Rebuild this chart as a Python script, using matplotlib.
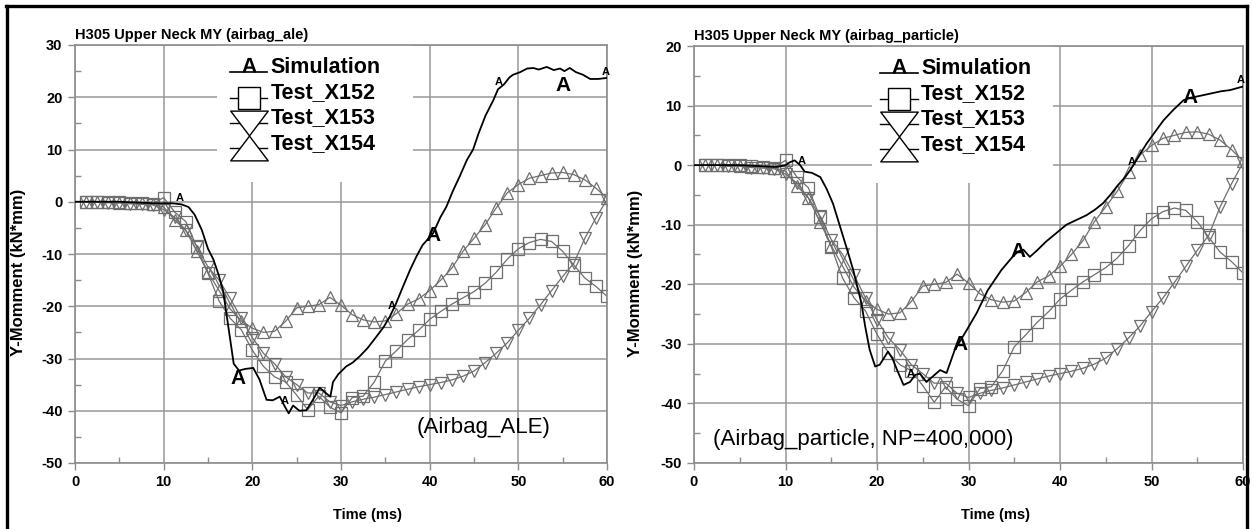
import numpy as np
import matplotlib
matplotlib.use('Agg')
import matplotlib.pyplot as plt
from matplotlib.lines import Line2D
from matplotlib.patches import Rectangle
from matplotlib.path import Path
from matplotlib.textpath import TextPath
from matplotlib.font_manager import FontProperties
from matplotlib.legend_handler import HandlerLine2D
from matplotlib.ticker import MultipleLocator

plt.rcParams['font.family'] = ['Liberation Sans', 'DejaVu Sans']
plt.rcParams['axes.unicode_minus'] = False

# test curves (same physical tests in both panels), one marker every 1.25 ms
test_t = np.arange(1, 49) * 1.25
x152 = [0, 0, 0, 0, -0.2, -0.3, -0.4, 0.8, -2.0, -3.8, -8.7, -13.7,
        -19.0, -22.3, -24.5, -28.4, -31.5, -33.5, -34.5, -37.0, -39.8, -37.2, -39.3, -40.4,
        -37.5, -37.2, -34.5, -30.5, -28.5, -26.4, -24.6, -22.5, -21.0, -19.6, -18.4, -17.2,
        -15.6, -13.5, -11.0, -9.0, -7.8, -7.2, -7.6, -9.5, -12.1, -14.6, -16.2, -18.1]
x153 = [0, 0, -0.2, -0.2, -0.4, -0.5, -0.6, -1.5, -3.0, -5.5, -8.5, -12.5,
        -15.0, -18.5, -22.3, -26.0, -29.0, -31.0, -33.5, -35.0, -36.6, -36.6, -38.3, -39.0,
        -38.3, -37.8, -37.4, -36.9, -36.4, -35.9, -35.4, -35.0, -34.6, -34.1, -33.4, -32.4,
        -30.8, -29.0, -27.0, -24.6, -22.3, -19.7, -17.0, -14.3, -11.8, -7.0, -3.1, 0.4]
x154 = [0, 0, 0, -0.2, -0.3, -0.3, -0.5, -1.0, -3.5, -5.5, -9.5, -13.5,
        -17.0, -20.5, -22.8, -24.2, -25.0, -24.8, -22.9, -20.3, -20.0, -19.7, -18.3, -19.8,
        -21.6, -22.6, -23.0, -22.8, -21.4, -19.6, -18.6, -17.0, -15.0, -12.7, -9.5, -7.0,
        -4.4, -1.2, 1.7, 3.3, 4.5, 5.0, 5.5, 5.6, 5.2, 4.2, 2.6, 0.7]

# simulation, airbag ALE
ale_t = [0, 5, 9, 11, 12, 12.8, 13.5, 14.3, 15, 15.6, 16.2, 16.7, 17.3, 17.9, 18.5, 19.2,
         20.1, 20.8, 21.6, 22.3, 23.1, 23.6, 24.1, 24.6, 25.3, 26.1, 26.8, 27.6, 28.2, 28.8,
         29.1, 29.7, 30.6, 31.3, 32.1, 33, 34, 34.8, 35.5, 36.2, 37, 37.8, 38.5, 39.2, 40.4,
         41.2, 41.9, 42.6, 43.4, 44.2, 44.9, 45.5, 46.3, 47.2, 47.7, 48.4, 49.0, 49.4, 50.2,
         51, 51.7, 52.3, 53.2, 54, 54.7, 55.2, 55.8, 56.5, 57.3, 58.1, 59, 60]
ale_y = [0, 0, -0.3, -0.3, -0.5, -1, -2.5, -5.4, -9, -11, -14, -17, -24, -31, -32.3, -32,
         -31.8, -34, -37.9, -38, -37.3, -39, -40.5, -39, -40, -39.9, -38, -35.6, -36.5, -37.3,
         -34.5, -33, -31.5, -30.8, -29.6, -28, -25.8, -24, -22, -19.5, -16.2, -13, -10.5, -8.3, -6,
         -3, -0.9, 2, 4.9, 8, 10, 13, 16.5, 19.5, 21.5, 22.5, 23.8, 24.3, 24.8,
         25.5, 25.6, 25.3, 25.8, 25.2, 25.5, 25, 25.6, 24.8, 24.3, 23.5, 23.5, 23.7]

# simulation, airbag particle
par_t = [0, 5, 9, 10, 10.5, 11, 11.6, 12.1, 12.9, 13.8, 14.5, 15.2, 15.7, 16.3, 16.9, 17.4,
         18.3, 18.7, 19.2, 19.8, 20.3, 21.2, 21.7, 22.2, 22.9, 23.6, 24.2, 24.7, 25.4, 26.3,
         26.9, 27.6, 28.5, 29.8, 30.9, 32.1, 33.6, 34.7, 35.4, 36.0, 36.7, 37.5, 38.5, 39.6,
         40.7, 41.8, 42.9, 43.8, 44.7, 45.5, 46.2, 47.0, 47.7, 48.6, 49.5, 50.4, 51.3, 52.4,
         53.5, 54.2, 54.9, 55.8, 56.7, 57.6, 58.6, 59.3, 60]
par_y = [0, 0, -0.3, 0, 0.5, 0.8, 0, -1.1, -1.3, -2, -4, -6.5, -9, -12, -15, -17.6,
         -23.2, -27, -31, -33.8, -33.5, -31.3, -32.5, -34.4, -36.9, -36.4, -35.2, -35, -36.4, -35.2,
         -34.4, -34.9, -31, -27.7, -24.8, -21, -17.6, -15.6, -14.5, -14.2, -15.4, -14.3, -12.8, -11.4,
         -10, -9.2, -8.4, -7.5, -6.4, -5, -3.6, -2.2, -0.8, 1.5, 3.7, 5.6, 7.5, 9.3,
         10.9, 11.3, 11.5, 11.8, 12.1, 12.4, 12.6, 12.9, 13.2]

labels = ['Simulation', 'Test_X152', 'Test_X153', 'Test_X154']

GRAY = '#6e6e6e'
AX_GRAY = '#8c8c8c'


def a_marker():
    tp = TextPath((0, 0), 'A', prop=FontProperties(family='Liberation Sans', weight='bold'), size=1)
    v = tp.vertices.copy()
    keep = tp.codes != Path.CLOSEPOLY
    v[:, 0] -= (v[keep, 0].min() + v[keep, 0].max()) / 2
    v[~keep] = 0
    return Path(v, tp.codes)


tri_down = Path([(-0.5, 0.33), (0.5, 0.33), (0, -0.33), (-0.5, 0.33)],
                [Path.MOVETO, Path.LINETO, Path.LINETO, Path.CLOSEPOLY])
tri_up = Path([(-0.5, -0.33), (0.5, -0.33), (0, 0.33), (-0.5, -0.33)],
              [Path.MOVETO, Path.LINETO, Path.LINETO, Path.CLOSEPOLY])


class BaselineHandler(HandlerLine2D):
    # put the handle line on the text baseline like the original
    def create_artists(self, legend, orig_handle, xdescent, ydescent, width, height, fontsize, trans):
        arts = super().create_artists(legend, orig_handle, xdescent, ydescent,
                                      width, height, fontsize, trans)
        for a in arts:
            a.set_ydata(np.asarray(a.get_ydata(), float) - 0.33 * fontsize)
        return arts


def panel(ax, sim_t, sim_y, ymax, title, note, note_xy, small_tags, big_tags, box, leg_xy):
    ax.plot(test_t, x152, color=GRAY, lw=0.9, marker='s', ms=8, mfc='none', mec=GRAY, mew=0.9, zorder=2)
    ax.plot(test_t, x153, color=GRAY, lw=0.9, marker='v', ms=8, mfc='none', mec=GRAY, mew=0.9, zorder=2)
    ax.plot(test_t, x154, color=GRAY, lw=0.9, marker='^', ms=8, mfc='none', mec=GRAY, mew=0.9, zorder=2)
    ax.plot(sim_t, sim_y, color='black', lw=1.3, zorder=3)

    for t in small_tags:
        ax.text(t, np.interp(t, sim_t, sim_y) + 0.3, 'A', fontsize=8, fontweight='bold',
                ha='center', va='bottom', zorder=4)
    for t, dy in big_tags:
        ax.text(t, np.interp(t, sim_t, sim_y) + dy, 'A', fontsize=15, fontweight='bold',
                ha='center', va='center', zorder=4)

    ax.set_xlim(0, 60)
    ax.set_ylim(-50, ymax)
    ax.xaxis.set_major_locator(MultipleLocator(10))
    ax.yaxis.set_major_locator(MultipleLocator(10))
    ax.xaxis.set_minor_locator(MultipleLocator(5))
    ax.yaxis.set_minor_locator(MultipleLocator(5))
    ax.grid(True, which='major', color='#999999', lw=1.1)
    ax.tick_params(which='major', direction='out', length=5, color=AX_GRAY, width=1.0,
                   labelsize=10.5, pad=4)
    ax.tick_params(which='minor', direction='in', length=4, color=AX_GRAY, width=1.0)
    for lab in ax.get_xticklabels() + ax.get_yticklabels():
        lab.set_fontweight('bold')
    for s in ax.spines.values():
        s.set_color(AX_GRAY)
        s.set_linewidth(1.2)

    ax.set_title(title, loc='left', fontsize=10.5, fontweight='bold', pad=4)
    ax.set_xlabel('Time (ms)', fontsize=10.5, fontweight='bold')
    ax.set_ylabel('Y-Momment (kN*mm)', fontsize=12, fontweight='bold')
    ax.xaxis.set_label_coords(0.55, -0.108)
    ax.yaxis.set_label_coords(-0.092, 0.455)

    ax.text(note_xy[0], note_xy[1], note, fontsize=16, ha='left', va='center', zorder=4)

    ax.add_patch(Rectangle((box[0], box[1]), box[2] - box[0], 1 - box[1], transform=ax.transAxes,
                           facecolor='white', edgecolor='none', zorder=1.8))

    handles = [
        Line2D([], [], color='black', lw=1.2, marker=a_marker(), ms=21, mfc='black', mec='black', mew=0),
        Line2D([], [], color='black', lw=1.0, marker='s', ms=16, mfc='white', mec='black', mew=1.0),
        Line2D([], [], color='black', lw=1.0, marker=tri_down, ms=27, mfc='white', mec='black', mew=1.0),
        Line2D([], [], color='black', lw=1.0, marker=tri_up, ms=27, mfc='white', mec='black', mew=1.0),
    ]
    leg = ax.legend(handles, labels, loc='upper left', bbox_to_anchor=leg_xy, frameon=False,
                    prop=FontProperties(family='Liberation Sans', weight='bold', size=15.5),
                    handlelength=1.75, handletextpad=0.15, labelspacing=0.2, borderpad=0,
                    borderaxespad=0, numpoints=1, handler_map={Line2D: BaselineHandler()})
    leg.set_zorder(5)


fig = plt.figure(figsize=(12.53, 5.29), dpi=100)
axL = fig.add_axes([75 / 1253, 1 - 463 / 529, 532 / 1253, 418 / 529])
axR = fig.add_axes([694 / 1253, 1 - 463 / 529, 549 / 1253, 417 / 529])

panel(axL, ale_t, ale_y, 30, 'H305 Upper Neck MY (airbag_ale)', '(Airbag_ALE)', (38.5, -43.3),
      [11.8, 23.7, 35.7, 47.8, 59.8], [(18.4, -1.7), (40.4, -0.5), (55.0, -3.0)],
      (0.267, 0.672, 0.635), (0.291, 0.972))
panel(axR, par_t, par_y, 20, 'H305 Upper Neck MY (airbag_particle)', '(Airbag_particle, NP=400,000)',
      (2.1, -46.1), [11.8, 23.7, 47.8, 59.8], [(29.1, -0.7), (35.4, 0.0), (54.2, 0.0)],
      (0.324, 0.672, 0.654), (0.339, 0.972))

# black frame around the picture (top, left, right)
for xs, ys in [([0.005, 0.995], [0.988, 0.988]), ([0.0052, 0.0052], [0.0, 0.988]),
               ([0.9956, 0.9956], [0.0, 0.988])]:
    fig.add_artist(Line2D(xs, ys, color='black', lw=2.4, transform=fig.transFigure))

fig.savefig('out.png', dpi=100)
